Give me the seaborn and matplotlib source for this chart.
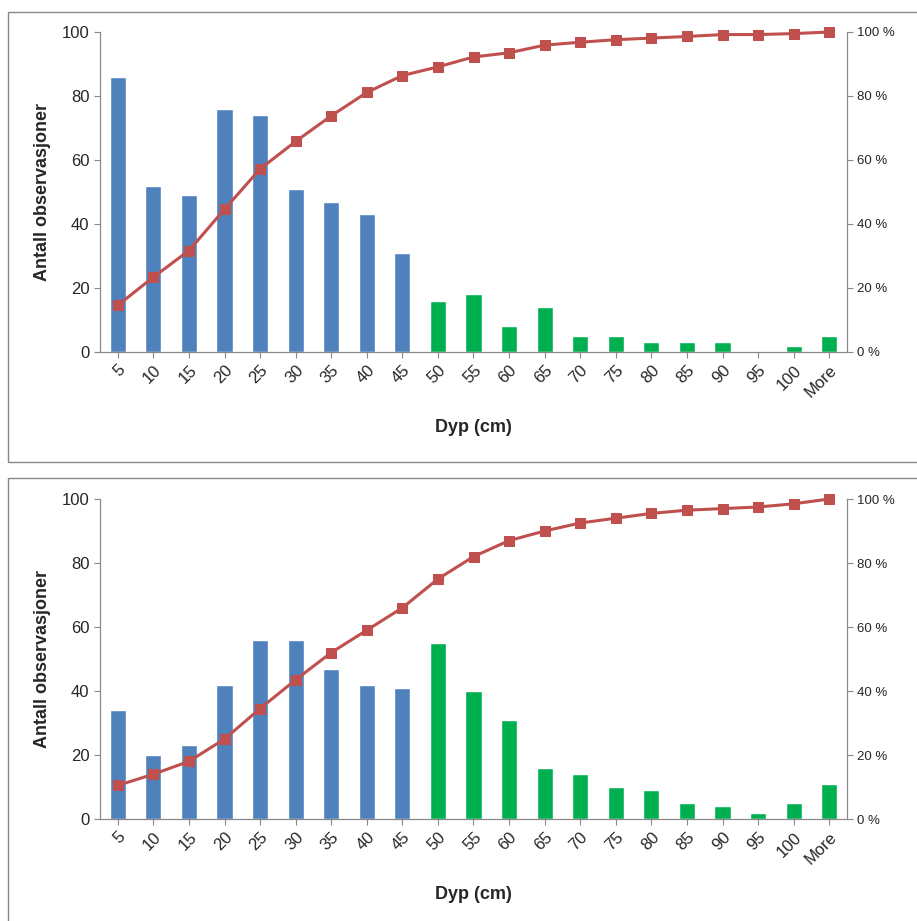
import numpy as np
import pandas as pd
import matplotlib.pyplot as plt
import seaborn as sns
from matplotlib.patches import Rectangle

categories = ['5', '10', '15', '20', '25', '30', '35', '40', '45', '50', '55',
              '60', '65', '70', '75', '80', '85', '90', '95', '100', 'More']

top_counts = [86, 52, 49, 76, 74, 51, 47, 43, 31, 16, 18, 8, 14, 5, 5, 3, 3, 3, 0, 2, 5]
top_cum = [14.6, 23.4, 31.7, 44.6, 57.2, 65.8, 73.8, 81.1, 86.4, 89.1, 92.2,
           93.5, 95.9, 96.8, 97.6, 98.1, 98.6, 99.2, 99.2, 99.5, 100]

bot_counts = [34, 20, 23, 42, 56, 56, 47, 42, 41, 55, 40, 31, 16, 14, 10, 9, 5, 4, 2, 5, 11]
bot_cum = [10.5, 14, 18, 25, 34.5, 43.5, 52, 59, 66, 75, 82, 87, 90, 92.5,
           94, 95.5, 96.5, 97, 97.5, 98.5, 100]

blue, green, red = '#4F81BD', '#00B050', '#C0504D'
colors = [blue] * 9 + [green] * 12

sns.set_style('white')
plt.rcParams['font.family'] = ['Liberation Sans', 'DejaVu Sans']

fig = plt.figure(figsize=(9.17, 9.21), dpi=100)


def panel(rect, counts, cum):
    ax = fig.add_axes(rect)
    df = pd.DataFrame({'Dyp': categories, 'n': counts})
    sns.barplot(data=df, x='Dyp', y='n', hue='Dyp', palette=colors, legend=False,
                width=0.45, saturation=1, ax=ax)
    ax.set_ylim(0, 100)
    ax.set_xlim(-0.5, len(categories) - 0.5)
    ax.set_yticks(range(0, 101, 20))
    ax.tick_params(axis='y', labelsize=12, length=4, color='#888888', left=True)
    ax.tick_params(axis='x', labelsize=12, length=4, color='#888888', bottom=True)
    for lab in ax.get_xticklabels():
        lab.set_rotation(45)
        lab.set_ha('right')
        lab.set_rotation_mode('anchor')
    ax.set_xlabel('Dyp (cm)', fontsize=13, fontweight='bold', labelpad=14)
    ax.set_ylabel('Antall observasjoner', fontsize=13, fontweight='bold', labelpad=8)
    for s in ['left', 'bottom', 'right']:
        ax.spines[s].set_color('#888888')
    ax.spines['top'].set_visible(False)

    ax2 = ax.twinx()
    sns.lineplot(x=np.arange(len(categories)), y=cum, color=red, lw=2.2,
                 marker='s', markersize=7, markeredgecolor=red, ax=ax2)
    for ln in ax2.get_lines():
        ln.set_clip_on(False)
    ax2.set_ylim(0, 100)
    ax2.set_yticks(range(0, 101, 20))
    ax2.set_yticklabels([f'{v} %' for v in range(0, 101, 20)], fontsize=9.5)
    ax2.tick_params(axis='y', length=4, color='#888888', right=True)
    for s in ['left', 'bottom', 'right']:
        ax2.spines[s].set_color('#888888')
    ax2.spines['top'].set_visible(False)
    return ax


W, H = 917, 921
panel([100 / W, 1 - 352 / H, 747 / W, 320 / H], top_counts, top_cum)
panel([100 / W, 1 - 819 / H, 747 / W, 320 / H], bot_counts, bot_cum)

fig.add_artist(Rectangle((8 / W, 1 - 462 / H), 1.2, 450 / H, transform=fig.transFigure,
                         fill=False, edgecolor='#888888', lw=1))
fig.add_artist(Rectangle((8 / W, 1 - 925 / H), 1.2, 447 / H, transform=fig.transFigure,
                         fill=False, edgecolor='#888888', lw=1))

fig.savefig('out.png', dpi=100)
